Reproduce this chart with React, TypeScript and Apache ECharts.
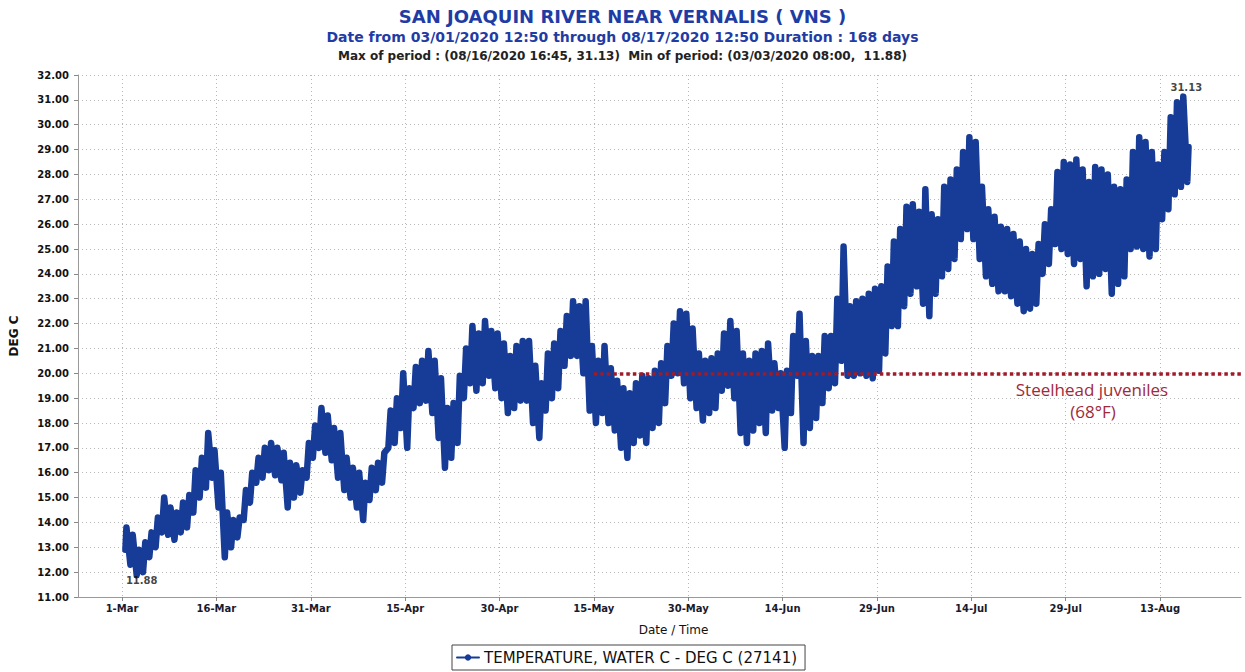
import React, { useEffect, useRef } from "react";
import * as echarts from "echarts";

const SERIES_NAME = "TEMPERATURE, WATER C - DEG C (27141)";
const TITLE = "SAN JOAQUIN RIVER NEAR VERNALIS ( VNS )";
const SUBTITLE = "Date from 03/01/2020 12:50 through 08/17/2020 12:50 Duration : 168 days";
const PERIOD_LINE = "Max of period : (08/16/2020 16:45, 31.13)  Min of period: (03/03/2020 08:00,  11.88)";

// daily low (morning) and high (afternoon) water temperature, day 0 = 1-Mar-2020
const dailyLow = [
  12.9, 12.3, 11.88, 12.0, 12.6, 13.0, 13.6, 13.5, 13.3, 13.6,
  13.8, 14.4, 15.0, 15.4, 15.8, 14.6, 12.6, 13.0, 13.4, 14.1,
  14.8, 15.6, 15.8, 16.1, 15.9, 15.7, 14.6, 15.0, 15.2, 15.8,
  16.6, 17.0, 16.8, 16.5, 15.8, 15.3, 15.0, 14.6, 14.1, 14.9,
  15.3, 15.6, 17.0, 17.2, 17.8, 17.0, 18.6, 18.8, 18.9, 18.4,
  17.4, 16.2, 16.6, 17.2, 19.0, 19.6, 19.3, 19.6, 19.9, 19.4,
  19.0, 18.4, 18.6, 18.9, 18.9, 18.0, 17.4, 18.5, 19.0, 19.4,
  20.3, 20.7, 20.7, 20.0, 18.5, 18.0, 18.4, 18.0, 17.7, 17.0,
  16.6, 17.2, 17.5, 17.2, 17.8, 18.0, 18.8, 19.9, 20.0, 19.6,
  19.0, 18.6, 18.1, 18.4, 18.6, 19.3, 19.5, 19.0, 17.6, 17.2,
  17.7, 18.0, 17.6, 18.5, 18.6, 17.0, 18.4, 19.9, 17.2, 17.8,
  18.2, 18.8, 19.4, 19.6, 20.5, 19.9, 19.9, 20.0, 19.9, 19.8,
  20.1, 20.8, 21.9, 21.9, 22.7, 23.2, 23.5, 22.8, 22.3, 23.2,
  23.9, 24.2, 24.6, 25.4, 25.8, 25.4, 24.6, 23.9, 23.6, 23.3,
  23.3, 23.1, 22.8, 22.5, 22.6, 22.8, 24.0, 24.4, 25.2, 25.0,
  24.8, 24.4, 24.6, 23.5, 23.9, 24.0, 24.2, 23.2, 23.6, 23.9,
  25.0, 25.1, 25.0, 24.7, 25.0, 26.2, 26.6, 27.2, 27.5, 27.7,
];
const dailyHigh = [
  13.8, 13.5, 12.9, 13.2, 13.6, 14.2, 15.0, 14.6, 14.4, 14.8,
  15.1, 16.1, 16.6, 17.6, 16.9, 16.0, 14.4, 14.1, 14.2, 15.3,
  16.0, 16.6, 17.0, 17.2, 17.0, 16.8, 16.4, 16.3, 16.1, 17.2,
  17.9, 18.6, 18.3, 17.8, 17.6, 16.6, 16.2, 16.0, 15.6, 16.2,
  16.4, 16.8, 18.5, 19.0, 20.0, 19.4, 20.25, 20.5, 20.9, 20.5,
  19.8, 18.6, 18.8, 19.9, 21.0, 21.9, 21.6, 22.1, 21.7, 21.6,
  21.2, 20.7, 21.1, 21.3, 21.3, 20.3, 19.6, 20.8, 21.2, 21.7,
  22.3, 22.9, 22.7, 22.9, 21.1, 20.5, 21.1, 20.2, 19.7, 19.4,
  19.2, 19.6, 19.9, 19.8, 20.1, 20.4, 21.1, 22.0, 22.5, 22.4,
  21.8, 20.8, 20.5, 20.6, 20.8, 21.6, 22.1, 21.7, 20.8, 20.5,
  20.8, 20.9, 21.2, 20.4, 20.0, 20.1, 21.5, 22.4, 21.3, 20.7,
  20.7, 21.5, 21.5, 23.0, 25.1, 22.7, 22.9, 23.0, 23.2, 23.4,
  23.5, 24.3, 25.3, 25.8, 26.7, 26.8, 26.5, 27.4, 26.4, 26.2,
  27.5, 27.8, 28.2, 28.9, 29.5, 29.3, 27.5, 26.6, 26.3, 25.9,
  25.8, 25.6, 25.3, 25.0, 24.8, 25.2, 26.0, 26.6, 28.1, 28.5,
  28.4, 28.6, 28.2, 27.7, 28.3, 28.2, 28.0, 27.5, 27.4, 27.8,
  28.9, 29.5, 29.3, 28.9, 28.4, 28.9, 30.3, 30.9, 31.13, 29.1,
];

const tickDates = [
  "2020-03-01", "2020-03-16", "2020-03-31", "2020-04-15", "2020-04-30", "2020-05-15",
  "2020-05-30", "2020-06-14", "2020-06-29", "2020-07-14", "2020-07-29", "2020-08-13",
];
const tickLabels = [
  "1-Mar", "16-Mar", "31-Mar", "15-Apr", "30-Apr", "15-May",
  "30-May", "14-Jun", "29-Jun", "14-Jul", "29-Jul", "13-Aug",
];

const maxPoint = { date: "2020-08-16T16:45:00Z", value: 31.13, label: "31.13" };
const minPoint = { date: "2020-03-03T08:00:00Z", value: 11.88, label: "11.88" };
const thresholdValue = 20.0;
const thresholdStart = "2020-05-15";
const thresholdText = ["Steelhead juveniles", "(68\u00b0F)"];

const DAY = 86400000;
const HOUR = 3600000;
const T0 = Date.UTC(2020, 2, 1);
const X_MIN = Date.UTC(2020, 1, 23);
const X_MAX = Date.UTC(2020, 7, 25, 21);
const toTs = (s: string) => Date.parse(s.length === 10 ? s + "T00:00:00Z" : s);

function buildSeries(): [number, number][] {
  const pts: [number, number][] = [];
  for (let i = 0; i < dailyLow.length; i++) {
    const base = T0 + i * DAY;
    const loT = i === 0 ? base + 12 * HOUR + 50 * 60000 : base + 8 * HOUR;
    const hiT = i === dailyLow.length - 1 ? base + 12 * HOUR + 50 * 60000 : base + 16 * HOUR + 45 * 60000;
    pts.push([loT, dailyLow[i]]);
    pts.push([hiT, dailyHigh[i]]);
  }
  return pts;
}

export default function App() {
  const ref = useRef<HTMLDivElement>(null);
  useEffect(() => {
    if (!ref.current) return;
    const chart = echarts.init(ref.current, undefined, { renderer: "svg" });
    const tickTs = tickDates.map(toTs);
    const blue = "#173c97";
    const red = "#9e1b2a";
    const tickFont = "DejaVu Sans";
    chart.setOption({
      animation: false,
      backgroundColor: "#ffffff",
      title: [
        {
          text: TITLE, left: "center", top: 7, padding: 0,
          textStyle: { fontFamily: tickFont, fontSize: 18, fontWeight: "bold", color: "#1f3ca5" },
        },
        {
          text: SUBTITLE, left: "center", top: 30, padding: 0,
          textStyle: { fontFamily: tickFont, fontSize: 14, fontWeight: "bold", color: "#1f3ca5" },
        },
        {
          text: PERIOD_LINE, left: "center", top: 50, padding: 0,
          textStyle: { fontFamily: tickFont, fontSize: 12, fontWeight: "bold", color: "#222" },
        },
      ],
      legend: {
        data: [SERIES_NAME],
        left: 452, top: 645,
        padding: [5, 8, 5, 4],
        borderColor: "#444", borderWidth: 1, borderRadius: 0,
        itemWidth: 22, itemHeight: 8, itemGap: 4,
        textStyle: { fontFamily: tickFont, fontSize: 15, color: "#111" },
      },
      grid: { left: 77, right: 4, top: 75, bottom: 75 },
      xAxis: {
        type: "value",
        min: X_MIN, max: X_MAX,
        name: "Date / Time", nameLocation: "middle", nameGap: 27,
        nameTextStyle: { fontFamily: tickFont, fontSize: 12, color: "#111", padding: [0, 0, 0, 28] },
        axisLine: { show: true, lineStyle: { color: "#999", width: 1 } },
        axisTick: { show: true, customValues: tickTs, length: 4, lineStyle: { color: "#888" } },
        axisLabel: {
          customValues: tickTs,
          formatter: (v: number) => {
            const i = tickTs.indexOf(v);
            return i >= 0 ? tickLabels[i] : "";
          },
          fontFamily: tickFont, fontSize: 10, fontWeight: "bold", color: "#1a1a2e", margin: 6,
        },
        splitLine: { show: true, lineStyle: { color: "#b8b8b8", type: [1, 3], width: 1 } },
      },
      yAxis: {
        type: "value",
        min: 11, max: 32, interval: 1,
        name: "DEG C", nameLocation: "middle", nameGap: 58, nameRotate: 90,
        nameTextStyle: { fontFamily: tickFont, fontSize: 12, fontWeight: "bold", color: "#111" },
        axisLine: { show: true, lineStyle: { color: "#999", width: 1 } },
        axisTick: { show: true, length: 4, lineStyle: { color: "#888" } },
        axisLabel: {
          formatter: (v: number) => v.toFixed(2),
          fontFamily: tickFont, fontSize: 10, fontWeight: "bold", color: "#111", margin: 9,
        },
        splitLine: { show: true, lineStyle: { color: "#b8b8b8", type: [1, 3], width: 1 } },
      },
      series: [
        {
          name: SERIES_NAME,
          type: "line",
          data: buildSeries(),
          showSymbol: false,
          symbol: "circle",
          symbolSize: 5,
          itemStyle: { color: blue },
          lineStyle: { color: blue, width: 6.5, join: "round", cap: "round" },
          z: 3,
          markLine: {
            silent: true,
            symbol: ["none", "none"],
            label: { show: false },
            lineStyle: { color: red, width: 3.5, type: [3.5, 3] },
            data: [[
              { coord: [toTs(thresholdStart), thresholdValue] },
              { coord: [X_MAX, thresholdValue] },
            ]],
          },
        },
        {
          name: "extremes",
          type: "scatter",
          silent: true,
          symbolSize: 1,
          itemStyle: { color: "rgba(0,0,0,0)" },
          z: 5,
          data: [
            {
              value: [toTs(maxPoint.date), maxPoint.value],
              label: { show: true, formatter: maxPoint.label, position: "top", distance: 4, offset: [3, 0] },
            },
            {
              value: [toTs(minPoint.date), minPoint.value],
              label: { show: true, formatter: minPoint.label, position: "bottom", distance: 0, offset: [5, 0] },
            },
          ],
          label: { fontFamily: tickFont, fontSize: 10, fontWeight: "bold", color: "#111" },
        },
      ],
      graphic: [
        {
          type: "text", x: 1092, y: 389, z: 10,
          style: {
            text: thresholdText[0], align: "center", verticalAlign: "middle",
            fontFamily: "Open Sans", fontSize: 17, fill: "#a12a3a",
          },
        },
        {
          type: "text", x: 1093, y: 411, z: 10,
          style: {
            text: thresholdText[1], align: "center", verticalAlign: "middle",
            fontFamily: "Open Sans", fontSize: 17, fill: "#a12a3a",
          },
        },
      ],
    });
    return () => chart.dispose();
  }, []);
  return (
    <div
      ref={ref}
      style={{ position: "fixed", left: 0, top: 0, width: 1245, height: 672, background: "#fff" }}
    />
  );
}
